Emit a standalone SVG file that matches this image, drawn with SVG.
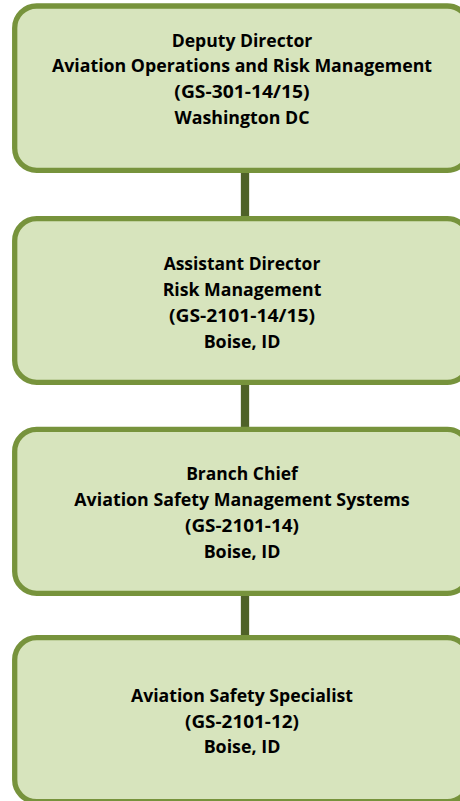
<svg xmlns="http://www.w3.org/2000/svg" width="460" height="801" viewBox="0 0 460 801">
<style>
.box{fill:#D7E4BD;stroke:#77933C;stroke-width:5.3}
.con{stroke:#4F6228;stroke-width:8.3;fill:none}
text{font-family:"Open Sans","Liberation Sans",sans-serif;font-weight:bold;font-size:17px;fill:#000;text-anchor:middle}
</style>
<rect width="460" height="801" fill="#fff"/>
<g id="connectors">
<line class="con" x1="245" y1="170" x2="245" y2="219"/>
<line class="con" x1="245" y1="382" x2="245" y2="430"/>
<line class="con" x1="245" y1="593" x2="245" y2="638"/>
</g>
<g id="node1">
<rect class="box" x="14.7" y="6" width="454.6" height="164.3" rx="22"/>
<text x="242" y="46.5" textLength="140.7" lengthAdjust="spacingAndGlyphs">Deputy Director</text>
<text x="242" y="72" textLength="380" lengthAdjust="spacingAndGlyphs">Aviation Operations and Risk Management</text>
<text x="242" y="97.5" textLength="135.3" lengthAdjust="spacingAndGlyphs">(GS-301-14/15)</text>
<text x="242" y="124" textLength="135" lengthAdjust="spacingAndGlyphs">Washington DC</text>
</g>
<g id="node2">
<rect class="box" x="14.7" y="218.7" width="454.6" height="163.7" rx="22"/>
<text x="242" y="269.5" textLength="156.7" lengthAdjust="spacingAndGlyphs">Assistant Director</text>
<text x="242" y="295.5" textLength="158.7" lengthAdjust="spacingAndGlyphs">Risk Management</text>
<text x="242" y="321.5" textLength="146" lengthAdjust="spacingAndGlyphs">(GS-2101-14/15)</text>
<text x="242" y="347.5" textLength="76.7" lengthAdjust="spacingAndGlyphs">Boise, ID</text>
</g>
<g id="node3">
<rect class="box" x="14.7" y="429.4" width="454.6" height="164" rx="22"/>
<text x="242" y="480" textLength="111.7" lengthAdjust="spacingAndGlyphs">Branch Chief</text>
<text x="242" y="506" textLength="335.3" lengthAdjust="spacingAndGlyphs">Aviation Safety Management Systems</text>
<text x="242" y="531.7" textLength="114" lengthAdjust="spacingAndGlyphs">(GS-2101-14)</text>
<text x="242" y="557.7" textLength="76.7" lengthAdjust="spacingAndGlyphs">Boise, ID</text>
</g>
<g id="node4">
<rect class="box" x="14.7" y="637.7" width="454.6" height="164" rx="22"/>
<text x="242" y="701.7" textLength="222" lengthAdjust="spacingAndGlyphs">Aviation Safety Specialist</text>
<text x="242" y="727.7" textLength="114" lengthAdjust="spacingAndGlyphs">(GS-2101-12)</text>
<text x="242" y="753.3" textLength="76.7" lengthAdjust="spacingAndGlyphs">Boise, ID</text>
</g>
</svg>
